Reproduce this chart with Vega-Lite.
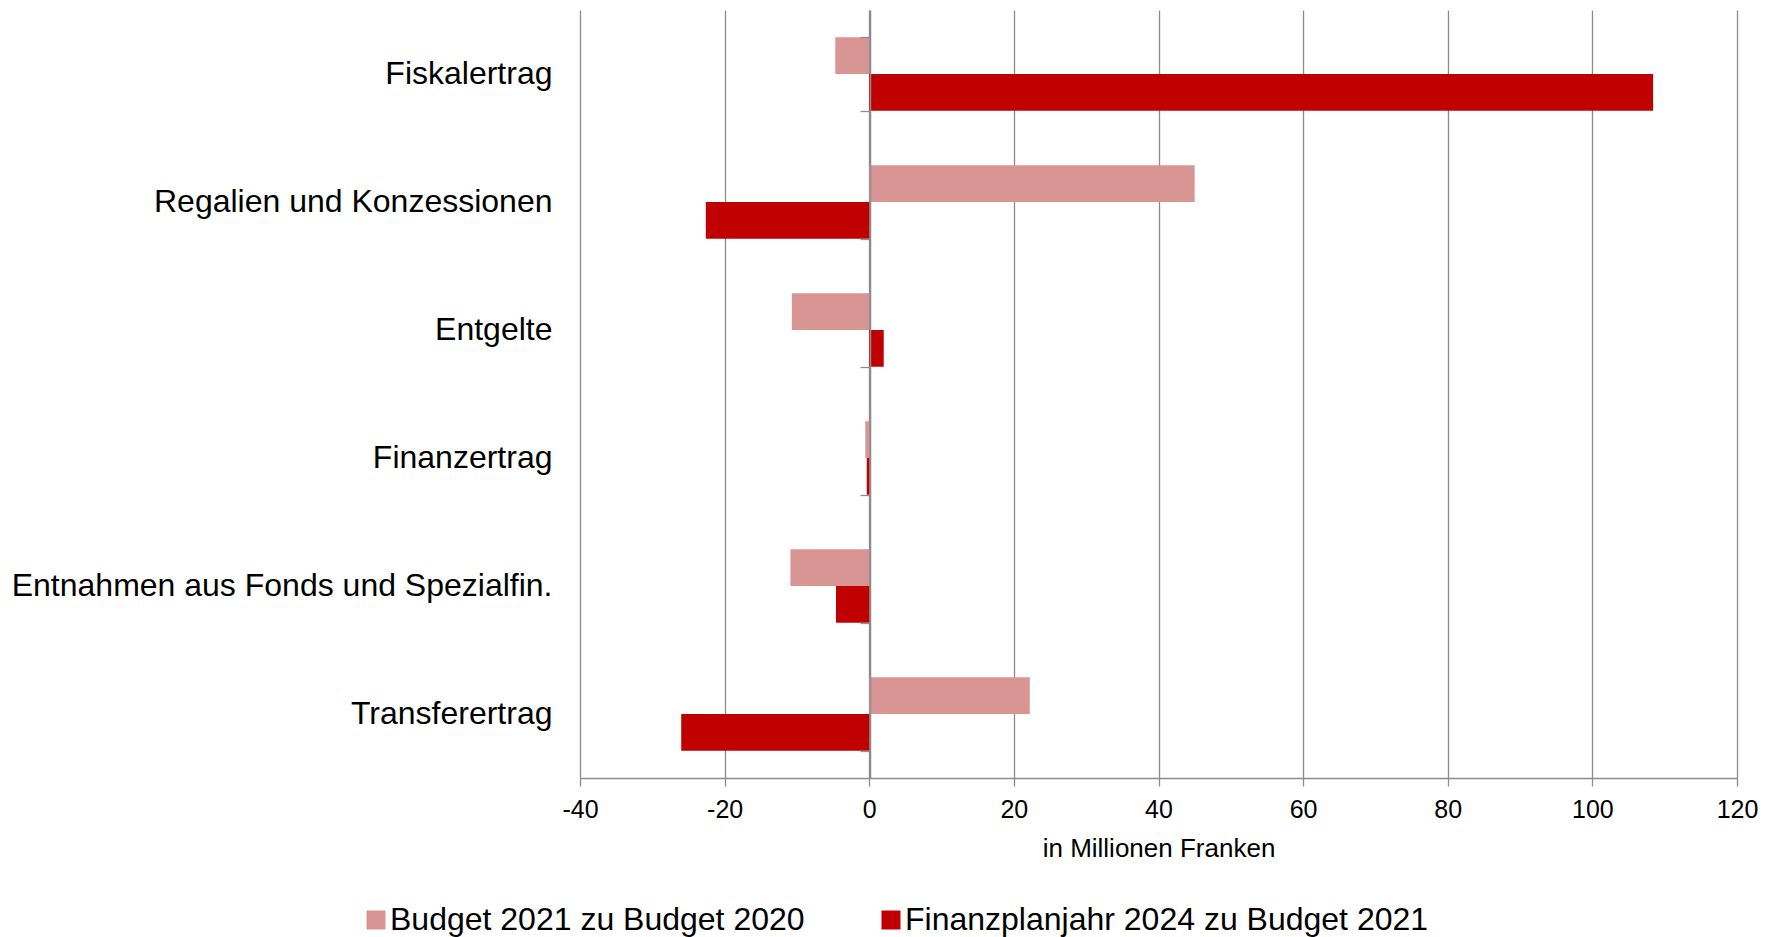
{
  "$schema": "https://vega.github.io/schema/vega-lite/v6.json",
  "width": 1157,
  "height": 768,
  "autosize": {"type": "none"},
  "padding": {"left": 580, "top": 10, "right": 40, "bottom": 159},
  "background": "white",
  "config": {"view": {"stroke": null}, "font": "Liberation Sans"},
  "data": {
    "values": [
      {"kategorie": "Fiskalertrag", "reihe": "Budget 2021 zu Budget 2020", "wert": -4.7},
      {"kategorie": "Fiskalertrag", "reihe": "Finanzplanjahr 2024 zu Budget 2021", "wert": 108.4},
      {"kategorie": "Regalien und Konzessionen", "reihe": "Budget 2021 zu Budget 2020", "wert": 45.0},
      {"kategorie": "Regalien und Konzessionen", "reihe": "Finanzplanjahr 2024 zu Budget 2021", "wert": -22.6},
      {"kategorie": "Entgelte", "reihe": "Budget 2021 zu Budget 2020", "wert": -10.7},
      {"kategorie": "Entgelte", "reihe": "Finanzplanjahr 2024 zu Budget 2021", "wert": 2.0},
      {"kategorie": "Finanzertrag", "reihe": "Budget 2021 zu Budget 2020", "wert": -0.55},
      {"kategorie": "Finanzertrag", "reihe": "Finanzplanjahr 2024 zu Budget 2021", "wert": -0.35},
      {"kategorie": "Entnahmen aus Fonds und Spezialfin.", "reihe": "Budget 2021 zu Budget 2020", "wert": -10.9},
      {"kategorie": "Entnahmen aus Fonds und Spezialfin.", "reihe": "Finanzplanjahr 2024 zu Budget 2021", "wert": -4.6},
      {"kategorie": "Transferertrag", "reihe": "Budget 2021 zu Budget 2020", "wert": 22.2},
      {"kategorie": "Transferertrag", "reihe": "Finanzplanjahr 2024 zu Budget 2021", "wert": -26.0}
    ]
  },
  "layer": [
    {
      "mark": {"type": "bar"},
      "encoding": {
        "y": {
          "field": "kategorie",
          "type": "nominal",
          "sort": ["Fiskalertrag", "Regalien und Konzessionen", "Entgelte", "Finanzertrag", "Entnahmen aus Fonds und Spezialfin.", "Transferertrag"],
          "scale": {"paddingInner": 0.426, "paddingOuter": 0.213},
          "axis": {"title": null, "domain": false, "ticks": false, "grid": false, "labelPadding": 28, "labelFontSize": 32, "labelColor": "black", "labelLimit": 0}
        },
        "yOffset": {
          "field": "reihe",
          "type": "nominal",
          "sort": ["Budget 2021 zu Budget 2020", "Finanzplanjahr 2024 zu Budget 2021"],
          "scale": {"paddingInner": 0, "paddingOuter": 0}
        },
        "x": {
          "field": "wert",
          "type": "quantitative",
          "scale": {"domain": [-40, 120], "nice": false, "zero": false},
          "axis": {
            "values": [-40, -20, 0, 20, 40, 60, 80, 100, 120],
            "labelExpr": "'' + datum.value",
            "labelFlush": false,
            "labelOverlap": false,
            "grid": true, "gridColor": "#8c8c8c", "gridWidth": 1.3,
            "domainColor": "#8c8c8c", "domainWidth": 1.3,
            "tickColor": "#8c8c8c", "tickWidth": 1.3, "tickSize": 8,
            "labelFontSize": 25, "labelColor": "black", "labelPadding": 11,
            "title": "in Millionen Franken", "titleFontSize": 26, "titleFontWeight": "normal", "titleColor": "black", "titlePadding": 13
          }
        },
        "color": {
          "field": "reihe",
          "type": "nominal",
          "scale": {"domain": ["Budget 2021 zu Budget 2020", "Finanzplanjahr 2024 zu Budget 2021"], "range": ["#D99594", "#C00000"]},
          "legend": {
            "title": null, "orient": "none", "legendX": -220, "legendY": 894, "direction": "horizontal",
            "padding": 0, "symbolType": "square", "symbolSize": 361, "symbolStrokeWidth": 0,
            "labelFontSize": 32, "labelColor": "black", "labelOffset": -2, "labelLimit": 0, "columnPadding": 70
          }
        }
      }
    },
    {
      "mark": {"type": "point", "opacity": 0},
      "encoding": {
        "y": {
          "field": "kategorie",
          "type": "nominal",
          "sort": ["Fiskalertrag", "Regalien und Konzessionen", "Entgelte", "Finanzertrag", "Entnahmen aus Fonds und Spezialfin.", "Transferertrag"],
          "axis": {"title": null, "orient": "left", "offset": -290, "labels": false, "grid": false, "domain": true, "domainColor": "#8c8c8c", "domainWidth": 1.5, "ticks": true, "tickBand": "extent", "tickSize": 10, "tickColor": "#8c8c8c", "tickWidth": 1.3, "zindex": 1}
        }
      }
    }
  ],
  "resolve": {"axis": {"y": "independent"}}
}
